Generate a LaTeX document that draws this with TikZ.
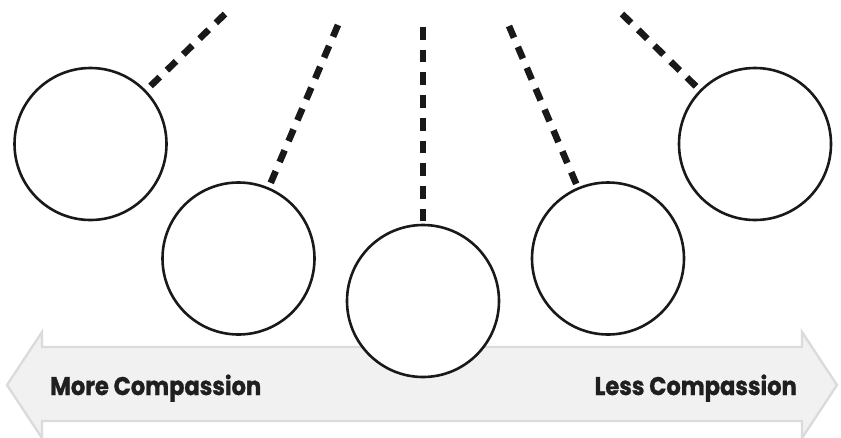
\documentclass[tikz,border=0pt]{standalone}
\usepackage{fontspec}
\setmainfont{Poppins}
\newfontfamily\labelfont{Poppins}[BoldFeatures={FakeBold=1.2}]
\newcommand{\scalelabeltext}[1]{\scalebox{0.885}[1]{#1}}
\begin{document}
\begin{tikzpicture}[x=1pt,y=-1pt,
  ball/.style={circle,draw=black!90,line width=2.6pt,fill=white,minimum size=152pt,inner sep=0pt},
  string/.style={line width=6.6pt,draw=black!90,dash pattern=on 12.7pt off 10pt},
  band/.style={fill=black!5.5,draw=black!14,line width=2.4pt,line join=miter},
  scalelabel/.style={font=\labelfont\bfseries\fontsize{25.5}{28}\selectfont,text=black!88,inner sep=0pt}]
\useasboundingbox (0,0) rectangle (841,437);

% horizontal double-headed band
\draw[band] (7,385) -- (42,332) -- (42,347) -- (802,347) -- (802,332)
  -- (837,385) -- (802,438) -- (802,421) -- (42,421) -- (42,438) -- cycle;
\node[scalelabel,anchor=base west] (more) at (50,395) {\scalelabeltext{More Compassion}};
\node[scalelabel,anchor=base east] (less) at (797,395) {\scalelabeltext{Less Compassion}};

% the five balls
\node[ball] (b1) at (90.5,144) {};
\node[ball] (b2) at (238.5,258.5) {};
\node[ball] (b3) at (423,301) {};
\node[ball] (b4) at (608,258.5) {};
\node[ball] (b5) at (755,144) {};

% string tops
\coordinate (t1) at (225,14);
\coordinate (t2) at (338,25);
\coordinate (t3) at (423,27);
\coordinate (t4) at (509,26);
\coordinate (t5) at (622,14);

\foreach \i in {1,...,5} \draw[string] (t\i) -- (b\i);
\end{tikzpicture}
\end{document}
